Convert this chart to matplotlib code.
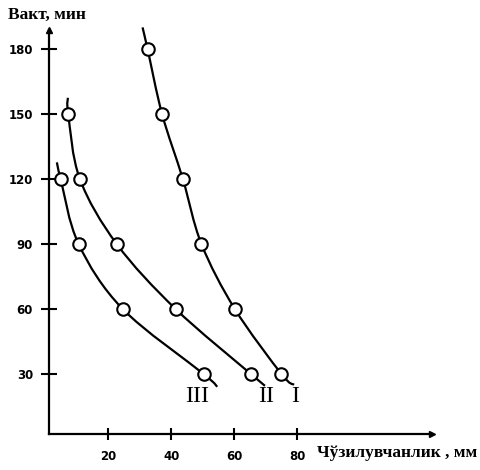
import numpy as np
import matplotlib.pyplot as plt
from matplotlib.path import Path
from matplotlib.patches import PathPatch

plt.rcParams['font.family'] = ['Liberation Serif', 'DejaVu Serif']

# measured points: time (min) vs elongation (mm)
time_I = [180, 150, 120, 90, 60, 30]
elong_I = [32.5, 37.1, 43.7, 49.6, 60.2, 75.0]
time_II = [150, 120, 90, 60, 30]
elong_II = [7.3, 11.0, 22.7, 41.4, 65.3]
time_III = [120, 90, 60, 30]
elong_III = [4.9, 10.6, 24.6, 50.3]

# where each drawn curve starts and stops past the markers (x, y)
ends_I = [(30.9, 190), (79.0, 25)]
ends_II = [(7.2, 157.5), (69.8, 24.6)]
ends_III = [(3.7, 127.7), (54.6, 24.1)]

xticks = [20, 40, 60, 80]
yticks = [30, 60, 90, 120, 150, 180]


def smooth_path(xs, ys):
    # catmull-rom through the points, drawn as cubic bezier pieces
    pts = np.column_stack([xs, ys])
    n = len(pts)
    verts = [pts[0]]
    codes = [Path.MOVETO]
    for i in range(n - 1):
        p0 = pts[max(i - 1, 0)]
        p1 = pts[i]
        p2 = pts[i + 1]
        p3 = pts[min(i + 2, n - 1)]
        verts += [p1 + (p2 - p0) / 6, p2 - (p3 - p1) / 6, p2]
        codes += [Path.CURVE4] * 3
    return Path(verts, codes)


fig = plt.figure(figsize=(4.8, 4.7), dpi=100)
ax = fig.add_axes([49 / 480, 1 - 434 / 470, (432 - 49) / 480, (434 - 30) / 470])
ax.set_xlim(1.2, 122.8)
ax.set_ylim(2.3, 188.8)

for xs, ys, ends in [(elong_I, time_I, ends_I),
                     (elong_II, time_II, ends_II),
                     (elong_III, time_III, ends_III)]:
    lx = [ends[0][0]] + xs + [ends[1][0]]
    ly = [ends[0][1]] + ys + [ends[1][1]]
    ax.add_patch(PathPatch(smooth_path(lx, ly), fill=False, lw=1.6,
                           color='black', clip_on=False, zorder=2))
    ax.plot(xs, ys, 'o', ms=9, mfc='white', mec='black', mew=1.5,
            clip_on=False, zorder=3)

for s in ['top', 'right']:
    ax.spines[s].set_visible(False)
for s in ['left', 'bottom']:
    ax.spines[s].set_linewidth(1.6)

ax.plot(0, 1, '^k', ms=5, transform=ax.transAxes, clip_on=False)
ax.plot(1, 0, '>k', ms=5, transform=ax.transAxes, clip_on=False)

ax.set_xticks(xticks)
ax.set_yticks(yticks)
ax.tick_params(axis='y', direction='inout', length=11, width=1.5, pad=6)
ax.tick_params(axis='x', direction='inout', length=8.5, width=1.5, pad=7.5)
for lab in ax.get_xticklabels() + ax.get_yticklabels():
    lab.set_family(['Liberation Sans Narrow', 'DejaVu Sans'])
    lab.set_fontweight('bold')
    lab.set_fontsize(8.5)

ax.text(48.1, 19.5, 'III', fontsize=17.5, ha='center', va='center')
ax.text(70.0, 19.5, 'II', fontsize=17.5, ha='center', va='center')
ax.text(79.5, 19.5, 'I', fontsize=17.5, ha='center', va='center')

fig.text(8 / 480, 1 - 15 / 470, 'Вакт, мин', fontsize=12.5, fontweight='bold',
         ha='left', va='center')
fig.text(317 / 480, 1 - 453 / 470, 'Чўзилувчанлик , мм', fontsize=12.5,
         fontweight='bold', ha='left', va='center')

fig.savefig('out.png', dpi=100)
